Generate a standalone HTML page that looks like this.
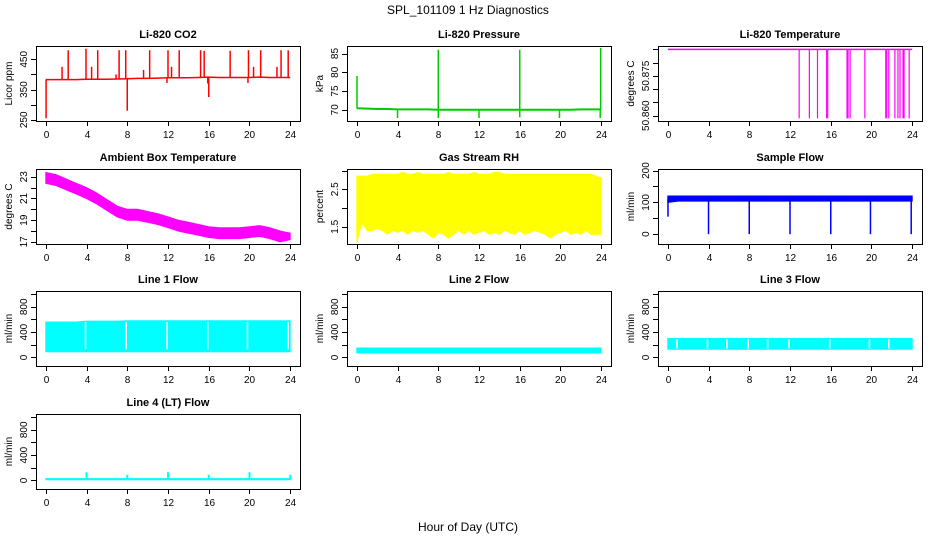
<!DOCTYPE html>
<html><head><meta charset="utf-8">
<style>
html,body{margin:0;padding:0;background:#fff;}
svg{display:block;font-family:"Liberation Sans",sans-serif;}
</style></head>
<body>
<svg id="chart" width="936" height="540" viewBox="0 0 936 540" xmlns="http://www.w3.org/2000/svg">
<text x="468" y="14" text-anchor="middle" font-size="12">SPL_101109  1 Hz Diagnostics</text>
<text x="468" y="531" text-anchor="middle" font-size="12">Hour of Day (UTC)</text>
</svg>
<script>
// ---- data ----
const xTicks = [0,4,8,12,16,20,24];
const hours = [0,1,2,3,4,5,6,7,8,9,10,11,12,13,14,15,16,17,18,19,20,21,22,23,24];
const halfHours = [0,0.5,1,1.5,2,2.5,3,3.5,4,4.5,5,5.5,6,6.5,7,7.5,8,8.5,9,9.5,10,10.5,11,11.5,12,12.5,13,13.5,14,14.5,15,15.5,16,16.5,17,17.5,18,18.5,19,19.5,20,20.5,21,21.5,22,22.5,23,23.5,24];

// CO2
const co2Base = [383,383,383,383,384,384,384,385,386,387,387,388,389,389,389,390,391,390,390,390,390,391,390,390,390];
const co2SpikeHours = [2.2,3.95,5.1,7.2,7.85,10.2,12.0,13.1,15.2,15.55,18.1,19.9,21.1,23.1,23.8,1.6,4.5,12.35,20.4,22.7,9.6,6.9,0.03,8.0,16.0,15.9,11.9,19.85];
const co2SpikeValues = [480,485,480,480,480,480,480,480,480,478,478,480,480,480,480,425,425,425,425,425,415,400,255,280,325,370,372,372];

// Pressure
const presBase = [70.4,70.3,70.2,70.2,70.1,70.1,70.1,70.1,70.0,70.0,70.0,70.0,70.0,70.0,70.0,70.0,70.0,70.0,70.0,70.0,70.0,70.0,70.1,70.1,70.1];
const presSpikeHours = [0.02,8.0,16.0,23.95,4.0,8.0,12.0,16.0,19.9,23.9];
const presSpikeValues = [79,86,86,86.5,67.8,67.8,67.8,68,67.8,67.8];

// Li-820 temperature
const tempBaseValue = 50.885;
const tempDropHours = [12.9,13.9,14.7,15.6,15.7,17.6,17.7,17.9,19.35,21.4,21.5,21.7,22.3,22.6,22.8,23.1,23.2,23.7];
const tempDropValue = 50.859;

// Ambient box temperature envelope
const ambUpper = [23.4,23.2,22.8,22.4,22.0,21.5,20.9,20.3,20.0,20.0,19.8,19.6,19.3,19.0,18.8,18.6,18.4,18.3,18.3,18.3,18.4,18.5,18.3,18.0,17.8];
const ambLower = [22.4,22.2,21.8,21.4,21.0,20.5,19.9,19.3,19.0,19.0,18.8,18.6,18.3,18.0,17.8,17.6,17.4,17.3,17.3,17.3,17.4,17.5,17.3,17.0,17.2];

// Gas stream RH envelope (half-hourly)
const rhUpper = [2.85,2.85,2.85,2.9,2.9,2.9,2.9,2.9,2.9,2.95,2.9,2.9,2.95,2.9,2.9,2.9,2.9,2.9,2.95,2.9,2.9,2.9,2.9,2.95,2.9,2.9,2.9,2.95,2.95,2.9,2.9,2.9,2.9,2.9,2.9,2.9,2.9,2.9,2.9,2.9,2.9,2.9,2.9,2.9,2.9,2.9,2.9,2.85,2.8];
const rhLower = [1.1,1.6,1.4,1.4,1.45,1.4,1.3,1.4,1.35,1.4,1.3,1.4,1.35,1.4,1.3,1.2,1.35,1.3,1.2,1.3,1.4,1.3,1.4,1.3,1.35,1.4,1.3,1.35,1.3,1.4,1.35,1.3,1.4,1.3,1.35,1.4,1.35,1.3,1.2,1.3,1.35,1.4,1.3,1.35,1.3,1.4,1.3,1.3,1.3];

// Sample flow
const sfUpper = [120,120,120,120,120,120,120,120,120,120,120,120,120,120,120,120,120,120,120,120,120,120,120,120,120];
const sfLower = [100,104,104,104,104,104,104,104,104,104,104,104,104,104,104,104,104,104,104,104,104,104,104,104,104];
const sfDipHours = [0.02,4.0,8.0,12.0,16.0,19.9,23.9];
const sfDipValues = [55,0,0,0,0,0,0];

// Line flows bands
const line1Upper = [560,560,560,560,575,575,575,575,580,580,580,580,580,580,580,580,580,580,580,580,580,580,580,580,580];
const line1Lower = [90,90,90,90,90,90,90,90,90,90,90,90,90,90,90,90,90,90,90,90,90,90,90,90,90];
const line1GapHours = [3.9,7.9,11.9,15.9,19.8,23.8];
const line2Upper = [150,150,150,150,150,150,150,150,150,150,150,150,150,150,150,150,150,150,150,150,150,150,150,150,150];
const line2Lower = [70,70,70,70,70,70,70,70,70,70,70,70,70,70,70,70,70,70,70,70,70,70,70,70,70];
const line3Upper = [300,300,300,300,300,300,300,300,300,300,300,300,300,300,300,300,300,300,300,300,300,300,300,300,300];
const line3Lower = [130,130,130,130,130,130,130,130,130,130,130,130,130,130,130,130,130,130,130,130,130,130,130,130,130];
const line3GapHours = [0.9,3.9,5.8,7.9,9.8,11.9,15.9,19.8,21.7];
const line4Base = [10,10,10,10,10,10,10,10,10,10,10,10,10,10,10,10,10,10,10,10,10,10,10,10,10];
const line4Top = [30,30,30,30,30,30,30,30,30,30,30,30,30,30,30,30,30,30,30,30,30,30,30,30,30];
const line4SpikeHours = [4.0,8.0,12.0,16.0,20.0,24.0];
const line4SpikeValues = [130,90,130,90,130,90];

// ---- layout ----
const NS = "http://www.w3.org/2000/svg";
const svg = document.getElementById('chart');
const colX = [36,347,658], rowY = [46,169,291,414], BW = 264, BH = 75;
const XD = [-0.96, 24.96];

function mk(tag, attrs, parent){
  const e = document.createElementNS(NS, tag);
  for (const k in attrs) e.setAttribute(k, attrs[k]);
  (parent||svg).appendChild(e);
  return e;
}

function panel(slug, title, col, row, yd, ticks, labels, ylab, fmt){
  const bx = colX[col], by = rowY[row];
  const g = mk('g', {});
  
  
  const sx = v => bx + (v - XD[0]) / (XD[1] - XD[0]) * BW;
  const sy = v => by + BH - (v - yd[0]) / (yd[1] - yd[0]) * BH;
  const t = mk('text', {x: bx + BW/2, y: by - 8, 'text-anchor':'middle', 'font-size':'11', 'font-weight':'bold'}, g);
  t.textContent = title;
  
  
  const dataG = mk('g', {}, g);
  
  
  const ax = mk('g', {stroke:'#000', 'stroke-width':'1', fill:'none'}, g);
  
  
  const box = mk('rect', {x: bx+0.5, y: by+0.5, width: BW, height: BH}, ax);
  
  
  xTicks.forEach(v => {
    const x = Math.round(sx(v)) + 0.5;
    mk('line', {x1:x, x2:x, y1:by+BH, y2:by+BH+5}, ax);
    const tl = mk('text', {x:x, y:by+BH+17, 'text-anchor':'middle', 'font-size':'10', fill:'#000', stroke:'none'}, g);
    tl.textContent = v;
    
    
  });
  ticks.forEach(v => {
    const y = Math.round(sy(v)) + 0.5;
    mk('line', {x1:bx-5, x2:bx, y1:y, y2:y}, ax);
  });
  labels.forEach(v => {
    const y = sy(v);
    const tl = mk('text', {x:0, y:0, 'text-anchor':'middle', 'font-size':'10', transform:`translate(${bx-9},${y}) rotate(-90)`}, g);
    tl.textContent = fmt ? fmt(v) : v;
    
    
  });
  const yl = mk('text', {x:0, y:0, 'text-anchor':'middle', 'font-size':'10', transform:`translate(${bx-24},${by+BH/2}) rotate(-90)`}, g);
  yl.textContent = ylab;
  
  
  return {sx, sy, g: dataG};
}

function line(p, xs, ys, color, w){
  const d = xs.map((x,i) => (i?'L':'M') + p.sx(x).toFixed(1) + ',' + p.sy(ys[i]).toFixed(1)).join('');
  return mk('path', {d, stroke: color, 'stroke-width': w||1.5, fill:'none'}, p.g);
}
function band(p, xs, up, lo, color){
  let d = xs.map((x,i) => (i?'L':'M') + p.sx(x).toFixed(1) + ',' + p.sy(up[i]).toFixed(1)).join('');
  for (let i = xs.length-1; i >= 0; i--) d += 'L' + p.sx(xs[i]).toFixed(1) + ',' + p.sy(lo[i]).toFixed(1);
  return mk('path', {d: d + 'Z', fill: color, stroke: color, 'stroke-width': 1}, p.g);
}
function spikes(p, hs, vs, baseFn, color, w){
  hs.forEach((h,i) => {
    const x = p.sx(h);
    mk('line', {x1:x, x2:x, y1:p.sy(baseFn(h)), y2:p.sy(vs[i]), stroke: color, 'stroke-width': w||1.5}, p.g);
  });
}
function interp(xs, ys){
  return h => {
    let i = Math.min(Math.max(Math.floor(h), 0), xs.length-2);
    const f = (h - xs[i]) / (xs[i+1]-xs[i]);
    return ys[i] + (ys[i+1]-ys[i]) * Math.min(Math.max(f,0),1);
  };
}
function gaps(p, hs, yd0, yd1){
  hs.forEach(h => {
    const x = p.sx(h);
    mk('line', {x1:x, x2:x, y1:p.sy(yd0), y2:p.sy(yd1), stroke:'#fff', 'stroke-width':1.5}, p.g);
  });
}

const flowTicks = [0,200,400,600,800,1000], flowLabels = [0,400,800];

let p = panel('co2', 'Li-820 CO2', 0, 0, [246,494], [250,300,350,400,450], [250,350,450], 'Licor ppm');
line(p, hours, co2Base, '#ff0000');
spikes(p, co2SpikeHours, co2SpikeValues, interp(hours, co2Base), '#ff0000');

p = panel('pressure', 'Li-820 Pressure', 1, 0, [67,87], [70,75,80,85], [70,75,80,85], 'kPa');
line(p, hours, presBase, '#00cc00', 2);
spikes(p, presSpikeHours, presSpikeValues, interp(hours, presBase), '#00cc00', 1.5);

p = panel('li820-temp', 'Li-820 Temperature', 2, 0, [50.858,50.8863], [50.860,50.865,50.870,50.875,50.880,50.885], [50.860,50.875], 'degrees C', v => v.toFixed(3));
line(p, [0,24], [tempBaseValue, tempBaseValue], '#ff00ff', 1.5);
spikes(p, tempDropHours, tempDropHours.map(() => tempDropValue), () => tempBaseValue, '#ff00ff', 1.2);

p = panel('ambient-temp', 'Ambient Box Temperature', 0, 1, [16.8,23.72], [17,18,19,20,21,22,23], [17,19,21,23], 'degrees C');
band(p, hours, ambUpper, ambLower, '#ff00ff');

p = panel('gas-rh', 'Gas Stream RH', 1, 1, [1.04,3.04], [1.5,2.0,2.5,3.0], [1.5,2.5], 'percent');
band(p, halfHours, rhUpper, rhLower, '#ffff00');

p = panel('sample-flow', 'Sample Flow', 2, 1, [-31,205], [0,50,100,150,200], [0,100,200], 'ml/min');
band(p, hours, sfUpper, sfLower, '#0000ff');
spikes(p, sfDipHours, sfDipValues, () => 110, '#0000ff', 1.5);

p = panel('line1-flow', 'Line 1 Flow', 0, 2, [-135,1050], flowTicks, flowLabels, 'ml/min');
band(p, hours, line1Upper, line1Lower, '#00ffff');
gaps(p, line1GapHours, 130, 560);

p = panel('line2-flow', 'Line 2 Flow', 1, 2, [-135,1050], flowTicks, flowLabels, 'ml/min');
band(p, hours, line2Upper, line2Lower, '#00ffff');

p = panel('line3-flow', 'Line 3 Flow', 2, 2, [-135,1050], flowTicks, flowLabels, 'ml/min');
band(p, hours, line3Upper, line3Lower, '#00ffff');
gaps(p, line3GapHours, 140, 290);

p = panel('line4-flow', 'Line 4 (LT) Flow', 0, 3, [-135,1050], flowTicks, flowLabels, 'ml/min');
band(p, hours, line4Top, line4Base, '#00ffff');
spikes(p, line4SpikeHours, line4SpikeValues, () => 20, '#00ffff', 2);
</script>
</body></html>
